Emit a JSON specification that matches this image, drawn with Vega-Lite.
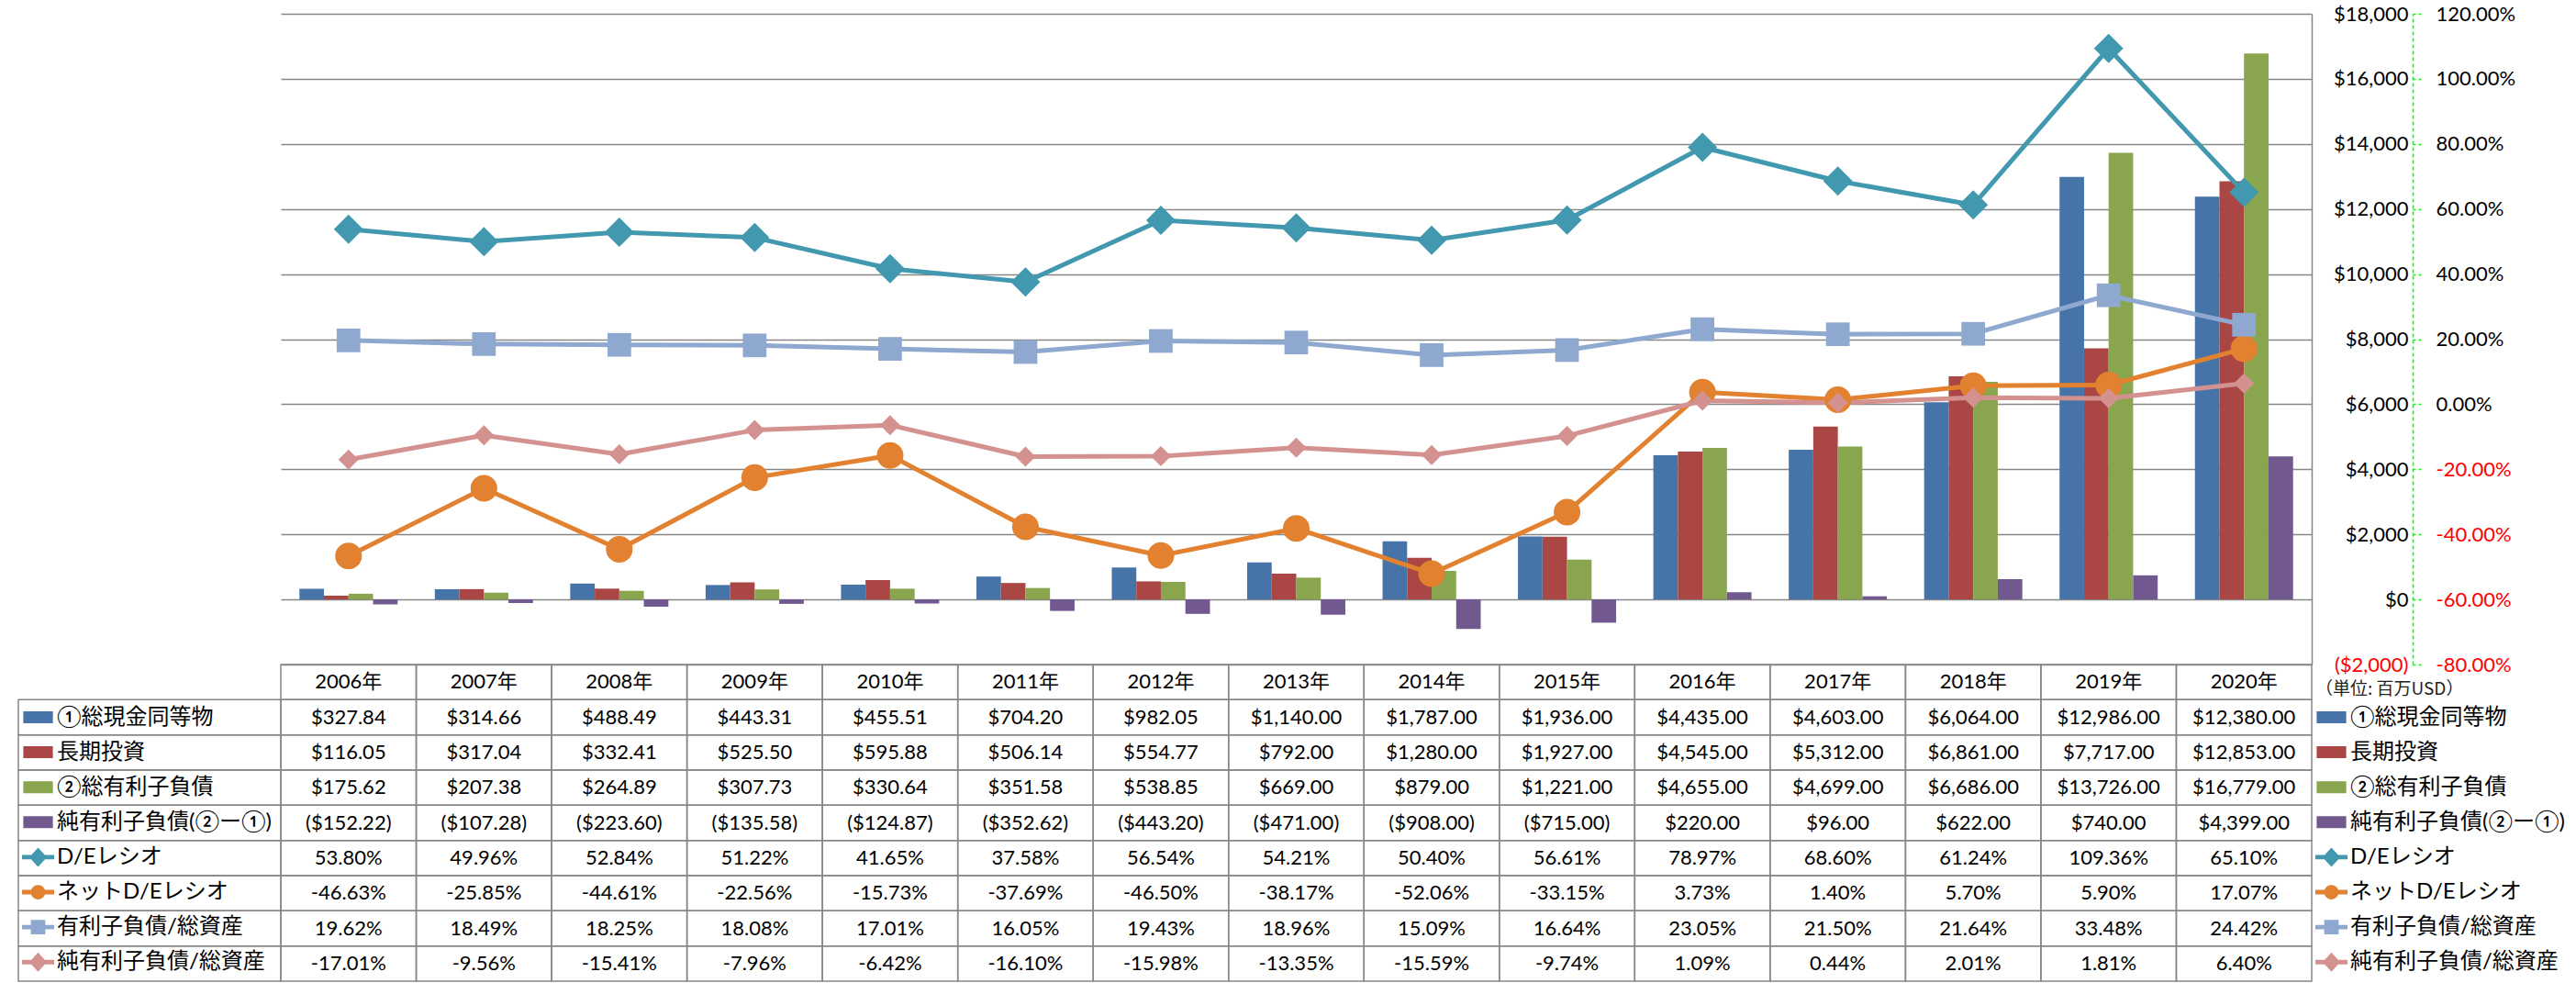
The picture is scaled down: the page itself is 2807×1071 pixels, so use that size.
{
  "$schema": "https://vega.github.io/schema/vega-lite/v6.json",
  "background": "white",
  "padding": {"left": 19, "top": 4, "right": 0, "bottom": 0},
  "config": {
    "font": "Lato, 'Noto Sans CJK JP', sans-serif",
    "view": {"stroke": null},
    "locale": {"number": {"decimal": ".", "thousands": ",", "grouping": [3], "currency": ["$", ""], "minus": "-"}},
    "text": {"font": "Lato, 'Noto Sans CJK JP', sans-serif", "fontSize": 22, "color": "#000000"}
  },
  "datasets": {
    "fin": [
      {"year": "2006", "series": "①総現金同等物", "kind": "money", "value": 327.84},
      {"year": "2007", "series": "①総現金同等物", "kind": "money", "value": 314.66},
      {"year": "2008", "series": "①総現金同等物", "kind": "money", "value": 488.49},
      {"year": "2009", "series": "①総現金同等物", "kind": "money", "value": 443.31},
      {"year": "2010", "series": "①総現金同等物", "kind": "money", "value": 455.51},
      {"year": "2011", "series": "①総現金同等物", "kind": "money", "value": 704.20},
      {"year": "2012", "series": "①総現金同等物", "kind": "money", "value": 982.05},
      {"year": "2013", "series": "①総現金同等物", "kind": "money", "value": 1140.00},
      {"year": "2014", "series": "①総現金同等物", "kind": "money", "value": 1787.00},
      {"year": "2015", "series": "①総現金同等物", "kind": "money", "value": 1936.00},
      {"year": "2016", "series": "①総現金同等物", "kind": "money", "value": 4435.00},
      {"year": "2017", "series": "①総現金同等物", "kind": "money", "value": 4603.00},
      {"year": "2018", "series": "①総現金同等物", "kind": "money", "value": 6064.00},
      {"year": "2019", "series": "①総現金同等物", "kind": "money", "value": 12986.00},
      {"year": "2020", "series": "①総現金同等物", "kind": "money", "value": 12380.00},
      {"year": "2006", "series": "長期投資", "kind": "money", "value": 116.05},
      {"year": "2007", "series": "長期投資", "kind": "money", "value": 317.04},
      {"year": "2008", "series": "長期投資", "kind": "money", "value": 332.41},
      {"year": "2009", "series": "長期投資", "kind": "money", "value": 525.50},
      {"year": "2010", "series": "長期投資", "kind": "money", "value": 595.88},
      {"year": "2011", "series": "長期投資", "kind": "money", "value": 506.14},
      {"year": "2012", "series": "長期投資", "kind": "money", "value": 554.77},
      {"year": "2013", "series": "長期投資", "kind": "money", "value": 792.00},
      {"year": "2014", "series": "長期投資", "kind": "money", "value": 1280.00},
      {"year": "2015", "series": "長期投資", "kind": "money", "value": 1927.00},
      {"year": "2016", "series": "長期投資", "kind": "money", "value": 4545.00},
      {"year": "2017", "series": "長期投資", "kind": "money", "value": 5312.00},
      {"year": "2018", "series": "長期投資", "kind": "money", "value": 6861.00},
      {"year": "2019", "series": "長期投資", "kind": "money", "value": 7717.00},
      {"year": "2020", "series": "長期投資", "kind": "money", "value": 12853.00},
      {"year": "2006", "series": "②総有利子負債", "kind": "money", "value": 175.62},
      {"year": "2007", "series": "②総有利子負債", "kind": "money", "value": 207.38},
      {"year": "2008", "series": "②総有利子負債", "kind": "money", "value": 264.89},
      {"year": "2009", "series": "②総有利子負債", "kind": "money", "value": 307.73},
      {"year": "2010", "series": "②総有利子負債", "kind": "money", "value": 330.64},
      {"year": "2011", "series": "②総有利子負債", "kind": "money", "value": 351.58},
      {"year": "2012", "series": "②総有利子負債", "kind": "money", "value": 538.85},
      {"year": "2013", "series": "②総有利子負債", "kind": "money", "value": 669.00},
      {"year": "2014", "series": "②総有利子負債", "kind": "money", "value": 879.00},
      {"year": "2015", "series": "②総有利子負債", "kind": "money", "value": 1221.00},
      {"year": "2016", "series": "②総有利子負債", "kind": "money", "value": 4655.00},
      {"year": "2017", "series": "②総有利子負債", "kind": "money", "value": 4699.00},
      {"year": "2018", "series": "②総有利子負債", "kind": "money", "value": 6686.00},
      {"year": "2019", "series": "②総有利子負債", "kind": "money", "value": 13726.00},
      {"year": "2020", "series": "②総有利子負債", "kind": "money", "value": 16779.00},
      {"year": "2006", "series": "純有利子負債(②ー①)", "kind": "money", "value": -152.22},
      {"year": "2007", "series": "純有利子負債(②ー①)", "kind": "money", "value": -107.28},
      {"year": "2008", "series": "純有利子負債(②ー①)", "kind": "money", "value": -223.60},
      {"year": "2009", "series": "純有利子負債(②ー①)", "kind": "money", "value": -135.58},
      {"year": "2010", "series": "純有利子負債(②ー①)", "kind": "money", "value": -124.87},
      {"year": "2011", "series": "純有利子負債(②ー①)", "kind": "money", "value": -352.62},
      {"year": "2012", "series": "純有利子負債(②ー①)", "kind": "money", "value": -443.20},
      {"year": "2013", "series": "純有利子負債(②ー①)", "kind": "money", "value": -471.00},
      {"year": "2014", "series": "純有利子負債(②ー①)", "kind": "money", "value": -908.00},
      {"year": "2015", "series": "純有利子負債(②ー①)", "kind": "money", "value": -715.00},
      {"year": "2016", "series": "純有利子負債(②ー①)", "kind": "money", "value": 220.00},
      {"year": "2017", "series": "純有利子負債(②ー①)", "kind": "money", "value": 96.00},
      {"year": "2018", "series": "純有利子負債(②ー①)", "kind": "money", "value": 622.00},
      {"year": "2019", "series": "純有利子負債(②ー①)", "kind": "money", "value": 740.00},
      {"year": "2020", "series": "純有利子負債(②ー①)", "kind": "money", "value": 4399.00},
      {"year": "2006", "series": "D/Eレシオ", "kind": "ratio", "value": 0.5380},
      {"year": "2007", "series": "D/Eレシオ", "kind": "ratio", "value": 0.4996},
      {"year": "2008", "series": "D/Eレシオ", "kind": "ratio", "value": 0.5284},
      {"year": "2009", "series": "D/Eレシオ", "kind": "ratio", "value": 0.5122},
      {"year": "2010", "series": "D/Eレシオ", "kind": "ratio", "value": 0.4165},
      {"year": "2011", "series": "D/Eレシオ", "kind": "ratio", "value": 0.3758},
      {"year": "2012", "series": "D/Eレシオ", "kind": "ratio", "value": 0.5654},
      {"year": "2013", "series": "D/Eレシオ", "kind": "ratio", "value": 0.5421},
      {"year": "2014", "series": "D/Eレシオ", "kind": "ratio", "value": 0.5040},
      {"year": "2015", "series": "D/Eレシオ", "kind": "ratio", "value": 0.5661},
      {"year": "2016", "series": "D/Eレシオ", "kind": "ratio", "value": 0.7897},
      {"year": "2017", "series": "D/Eレシオ", "kind": "ratio", "value": 0.6860},
      {"year": "2018", "series": "D/Eレシオ", "kind": "ratio", "value": 0.6124},
      {"year": "2019", "series": "D/Eレシオ", "kind": "ratio", "value": 1.0936},
      {"year": "2020", "series": "D/Eレシオ", "kind": "ratio", "value": 0.6510},
      {"year": "2006", "series": "ネットD/Eレシオ", "kind": "ratio", "value": -0.4663},
      {"year": "2007", "series": "ネットD/Eレシオ", "kind": "ratio", "value": -0.2585},
      {"year": "2008", "series": "ネットD/Eレシオ", "kind": "ratio", "value": -0.4461},
      {"year": "2009", "series": "ネットD/Eレシオ", "kind": "ratio", "value": -0.2256},
      {"year": "2010", "series": "ネットD/Eレシオ", "kind": "ratio", "value": -0.1573},
      {"year": "2011", "series": "ネットD/Eレシオ", "kind": "ratio", "value": -0.3769},
      {"year": "2012", "series": "ネットD/Eレシオ", "kind": "ratio", "value": -0.4650},
      {"year": "2013", "series": "ネットD/Eレシオ", "kind": "ratio", "value": -0.3817},
      {"year": "2014", "series": "ネットD/Eレシオ", "kind": "ratio", "value": -0.5206},
      {"year": "2015", "series": "ネットD/Eレシオ", "kind": "ratio", "value": -0.3315},
      {"year": "2016", "series": "ネットD/Eレシオ", "kind": "ratio", "value": 0.0373},
      {"year": "2017", "series": "ネットD/Eレシオ", "kind": "ratio", "value": 0.0140},
      {"year": "2018", "series": "ネットD/Eレシオ", "kind": "ratio", "value": 0.0570},
      {"year": "2019", "series": "ネットD/Eレシオ", "kind": "ratio", "value": 0.0590},
      {"year": "2020", "series": "ネットD/Eレシオ", "kind": "ratio", "value": 0.1707},
      {"year": "2006", "series": "有利子負債/総資産", "kind": "ratio", "value": 0.1962},
      {"year": "2007", "series": "有利子負債/総資産", "kind": "ratio", "value": 0.1849},
      {"year": "2008", "series": "有利子負債/総資産", "kind": "ratio", "value": 0.1825},
      {"year": "2009", "series": "有利子負債/総資産", "kind": "ratio", "value": 0.1808},
      {"year": "2010", "series": "有利子負債/総資産", "kind": "ratio", "value": 0.1701},
      {"year": "2011", "series": "有利子負債/総資産", "kind": "ratio", "value": 0.1605},
      {"year": "2012", "series": "有利子負債/総資産", "kind": "ratio", "value": 0.1943},
      {"year": "2013", "series": "有利子負債/総資産", "kind": "ratio", "value": 0.1896},
      {"year": "2014", "series": "有利子負債/総資産", "kind": "ratio", "value": 0.1509},
      {"year": "2015", "series": "有利子負債/総資産", "kind": "ratio", "value": 0.1664},
      {"year": "2016", "series": "有利子負債/総資産", "kind": "ratio", "value": 0.2305},
      {"year": "2017", "series": "有利子負債/総資産", "kind": "ratio", "value": 0.2150},
      {"year": "2018", "series": "有利子負債/総資産", "kind": "ratio", "value": 0.2164},
      {"year": "2019", "series": "有利子負債/総資産", "kind": "ratio", "value": 0.3348},
      {"year": "2020", "series": "有利子負債/総資産", "kind": "ratio", "value": 0.2442},
      {"year": "2006", "series": "純有利子負債/総資産", "kind": "ratio", "value": -0.1701},
      {"year": "2007", "series": "純有利子負債/総資産", "kind": "ratio", "value": -0.0956},
      {"year": "2008", "series": "純有利子負債/総資産", "kind": "ratio", "value": -0.1541},
      {"year": "2009", "series": "純有利子負債/総資産", "kind": "ratio", "value": -0.0796},
      {"year": "2010", "series": "純有利子負債/総資産", "kind": "ratio", "value": -0.0642},
      {"year": "2011", "series": "純有利子負債/総資産", "kind": "ratio", "value": -0.1610},
      {"year": "2012", "series": "純有利子負債/総資産", "kind": "ratio", "value": -0.1598},
      {"year": "2013", "series": "純有利子負債/総資産", "kind": "ratio", "value": -0.1335},
      {"year": "2014", "series": "純有利子負債/総資産", "kind": "ratio", "value": -0.1559},
      {"year": "2015", "series": "純有利子負債/総資産", "kind": "ratio", "value": -0.0974},
      {"year": "2016", "series": "純有利子負債/総資産", "kind": "ratio", "value": 0.0109},
      {"year": "2017", "series": "純有利子負債/総資産", "kind": "ratio", "value": 0.0044},
      {"year": "2018", "series": "純有利子負債/総資産", "kind": "ratio", "value": 0.0201},
      {"year": "2019", "series": "純有利子負債/総資産", "kind": "ratio", "value": 0.0181},
      {"year": "2020", "series": "純有利子負債/総資産", "kind": "ratio", "value": 0.0640}
    ],
    "years": [
      {"year": "2006", "series": "header", "label": "2006年"},
      {"year": "2007", "series": "header", "label": "2007年"},
      {"year": "2008", "series": "header", "label": "2008年"},
      {"year": "2009", "series": "header", "label": "2009年"},
      {"year": "2010", "series": "header", "label": "2010年"},
      {"year": "2011", "series": "header", "label": "2011年"},
      {"year": "2012", "series": "header", "label": "2012年"},
      {"year": "2013", "series": "header", "label": "2013年"},
      {"year": "2014", "series": "header", "label": "2014年"},
      {"year": "2015", "series": "header", "label": "2015年"},
      {"year": "2016", "series": "header", "label": "2016年"},
      {"year": "2017", "series": "header", "label": "2017年"},
      {"year": "2018", "series": "header", "label": "2018年"},
      {"year": "2019", "series": "header", "label": "2019年"},
      {"year": "2020", "series": "header", "label": "2020年"}
    ],
    "series": [
      {"series": "①総現金同等物"},
      {"series": "長期投資"},
      {"series": "②総有利子負債"},
      {"series": "純有利子負債(②ー①)"},
      {"series": "D/Eレシオ"},
      {"series": "ネットD/Eレシオ"},
      {"series": "有利子負債/総資産"},
      {"series": "純有利子負債/総資産"}
    ]
  },
  "columns": 3,
  "spacing": 0,
  "align": "each",
  "bounds": "flush",
  "resolve": {
    "scale": {"color": "independent", "shape": "independent", "size": "independent"},
    "legend": {"color": "independent", "shape": "independent", "size": "independent"}
  },
  "concat": [
    {
      "width": 286, "height": 709,
      "data": {"values": []},
      "mark": "point",
      "encoding": {}
    },
    {
      "width": 2213, "height": 709,
      "data": {"name": "fin"},
      "encoding": {
        "x": {"field": "year", "type": "nominal", "scale": {"paddingInner": 0.275, "paddingOuter": 0.1375}, "axis": null}
      },
      "layer": [
        {
          "transform": [{"filter": "datum.kind == 'money'"}],
          "mark": {"type": "bar"},
          "encoding": {
            "xOffset": {"field": "series", "type": "nominal", "scale": {"domain": ["①総現金同等物", "長期投資", "②総有利子負債", "純有利子負債(②ー①)"], "paddingInner": 0, "paddingOuter": 0}},
            "y": {
              "field": "value", "type": "quantitative",
              "scale": {"domain": [-2000, 18000], "nice": false},
              "axis": {
                "orient": "right", "title": null,
                "values": [-2000, 0, 2000, 4000, 6000, 8000, 10000, 12000, 14000, 16000, 18000],
                "format": "($,.0f",
                "grid": true, "gridColor": "#878787", "gridWidth": 1.5,
                "domain": true, "domainColor": "#878787", "domainWidth": 1.5,
                "ticks": false, "tickSize": 0,
                "labelAlign": "right", "labelPadding": 105,
                "labelFont": "Lato", "labelFontSize": 22,
                "labelColor": {"condition": {"test": "datum.value < 0", "value": "#FF0000"}, "value": "#000000"},
                "labelFlush": false, "labelOverlap": false
              }
            },
            "color": {
              "field": "series", "type": "nominal",
              "scale": {
                "domain": ["①総現金同等物", "長期投資", "②総有利子負債", "純有利子負債(②ー①)", "D/Eレシオ", "ネットD/Eレシオ", "有利子負債/総資産", "純有利子負債/総資産"],
                "range": ["#4674A8", "#AA4644", "#89A54E", "#71588F", "#4198AF", "#E2812F", "#8FA8CF", "#D39290"]
              },
              "legend": null
            }
          }
        },
        {
          "transform": [{"filter": "datum.kind == 'ratio'"}],
          "encoding": {
            "y": {
              "field": "value", "type": "quantitative",
              "scale": {"domain": [-0.8, 1.2], "nice": false},
              "axis": {
                "orient": "right", "offset": 110, "title": null,
                "values": [-0.8, -0.6, -0.4, -0.2, 0, 0.2, 0.4, 0.6, 0.8, 1, 1.2],
                "format": ".2%",
                "grid": false,
                "domain": true, "domainColor": "#00FF00", "domainDash": [4, 3], "domainWidth": 1.5,
                "ticks": true, "tickColor": "#00FF00", "tickDash": [3, 3], "tickSize": 9, "tickWidth": 1.5,
                "labelPadding": 16, "labelAlign": "left",
                "labelFont": "Lato", "labelFontSize": 22,
                "labelColor": {"condition": {"test": "datum.value < 0", "value": "#FF0000"}, "value": "#000000"},
                "labelFlush": false, "labelOverlap": false
              }
            },
            "color": {
              "field": "series", "type": "nominal",
              "scale": {
                "domain": ["①総現金同等物", "長期投資", "②総有利子負債", "純有利子負債(②ー①)", "D/Eレシオ", "ネットD/Eレシオ", "有利子負債/総資産", "純有利子負債/総資産"],
                "range": ["#4674A8", "#AA4644", "#89A54E", "#71588F", "#4198AF", "#E2812F", "#8FA8CF", "#D39290"]
              },
              "legend": null
            }
          },
          "layer": [
            {
              "mark": {"type": "line", "strokeWidth": 5, "strokeJoin": "round", "strokeCap": "round"}
            },
            {
              "mark": {"type": "point", "filled": true, "opacity": 1},
              "encoding": {
                "shape": {"field": "series", "type": "nominal", "scale": {"domain": ["D/Eレシオ", "ネットD/Eレシオ", "有利子負債/総資産", "純有利子負債/総資産"], "range": ["diamond", "circle", "square", "diamond"]}, "legend": null},
                "size": {"field": "series", "type": "nominal", "scale": {"domain": ["D/Eレシオ", "ネットD/Eレシオ", "有利子負債/総資産", "純有利子負債/総資産"], "range": [1024, 484, 529, 900]}, "legend": null}
              }
            }
          ]
        }
      ],
      "resolve": {"scale": {"y": "independent"}}
    },
    {
      "width": 287, "height": 709,
      "data": {"values": []},
      "mark": "point",
      "encoding": {}
    },
    {
      "width": 286, "height": 345,
      "data": {"name": "series"},
      "encoding": {
        "y": {"field": "series", "type": "nominal", "scale": {"domain": ["header", "①総現金同等物", "長期投資", "②総有利子負債", "純有利子負債(②ー①)", "D/Eレシオ", "ネットD/Eレシオ", "有利子負債/総資産", "純有利子負債/総資産"], "paddingInner": 0, "paddingOuter": 0}, "axis": null}
      },
      "layer": [
        {"mark": {"type": "rect", "fill": "#ffffff", "fillOpacity": 0, "stroke": "#878787", "strokeWidth": 1.5}},
        {
          "mark": {"type": "point", "filled": true, "opacity": 0},
          "encoding": {
            "color": {
              "field": "series", "type": "nominal",
              "scale": {
                "domain": ["①総現金同等物", "長期投資", "②総有利子負債", "純有利子負債(②ー①)", "D/Eレシオ", "ネットD/Eレシオ", "有利子負債/総資産", "純有利子負債/総資産"],
                "range": ["#4674A8", "#AA4644", "#89A54E", "#71588F", "#4198AF", "#E2812F", "#8FA8CF", "#D39290"]
              },
              "legend": {"orient": "none", "legendX": 4, "legendY": 40, "direction": "vertical", "title": null, "symbolSize": 1225, "symbolStrokeWidth": 0, "symbolOpacity": 1, "labelFontSize": 24, "labelFont": "Lato, 'Noto Sans CJK JP'", "labelColor": "#000000", "labelOffset": 3, "labelLimit": 400, "rowPadding": 8.1, "padding": 0, "offset": 0}
            },
            "shape": {
              "field": "series", "type": "nominal",
              "scale": {
                "domain": ["①総現金同等物", "長期投資", "②総有利子負債", "純有利子負債(②ー①)", "D/Eレシオ", "ネットD/Eレシオ", "有利子負債/総資産", "純有利子負債/総資産"],
                "range": [
                  "M-0.92,-0.37H0.92V0.37H-0.92Z",
                  "M-0.92,-0.37H0.92V0.37H-0.92Z",
                  "M-0.92,-0.37H0.92V0.37H-0.92Z",
                  "M-0.92,-0.37H0.92V0.37H-0.92Z",
                  "M-1,-0.14H1V0.14H-1Z M-0.55,0L0,-0.6L0.55,0L0,0.6Z",
                  "M-1,-0.14H1V0.14H-1Z M-0.45,0A0.45,0.45 0 1,1 0.45,0A0.45,0.45 0 1,1 -0.45,0Z",
                  "M-1,-0.14H1V0.14H-1Z M-0.45,-0.45H0.45V0.45H-0.45Z",
                  "M-1,-0.14H1V0.14H-1Z M-0.55,0L0,-0.6L0.55,0L0,0.6Z"
                ]
              },
              "legend": {"orient": "none", "legendX": 4, "legendY": 40, "direction": "vertical", "title": null, "symbolSize": 1225, "symbolStrokeWidth": 0, "symbolOpacity": 1, "labelFontSize": 24, "labelFont": "Lato, 'Noto Sans CJK JP'", "labelColor": "#000000", "labelOffset": 3, "labelLimit": 400, "rowPadding": 8.1, "padding": 0, "offset": 0}
            }
          }
        }
      ]
    },
    {
      "width": 2213, "height": 345,
      "encoding": {
        "x": {"field": "year", "type": "nominal", "scale": {"paddingInner": 0, "paddingOuter": 0}, "axis": null},
        "y": {"field": "series", "type": "nominal", "scale": {"domain": ["header", "①総現金同等物", "長期投資", "②総有利子負債", "純有利子負債(②ー①)", "D/Eレシオ", "ネットD/Eレシオ", "有利子負債/総資産", "純有利子負債/総資産"], "paddingInner": 0, "paddingOuter": 0}, "axis": null}
      },
      "layer": [
        {"data": {"name": "fin"}, "mark": {"type": "rect", "fill": "#ffffff", "fillOpacity": 0, "stroke": "#878787", "strokeWidth": 1.5}},
        {"data": {"name": "years"}, "mark": {"type": "rect", "fill": "#ffffff", "fillOpacity": 0, "stroke": "#878787", "strokeWidth": 1.5}},
        {
          "data": {"name": "fin"},
          "transform": [{"filter": "datum.kind == 'money'"}],
          "mark": {"type": "text", "fontSize": 22, "color": "#000000"},
          "encoding": {"text": {"field": "value", "type": "quantitative", "format": "($,.2f"}}
        },
        {
          "data": {"name": "fin"},
          "transform": [{"filter": "datum.kind == 'ratio'"}],
          "mark": {"type": "text", "fontSize": 22, "color": "#000000"},
          "encoding": {"text": {"field": "value", "type": "quantitative", "format": ".2%"}}
        },
        {
          "data": {"name": "years"},
          "mark": {"type": "text", "fontSize": 22, "color": "#000000"},
          "encoding": {"text": {"field": "label", "type": "nominal"}}
        }
      ]
    },
    {
      "width": 287, "height": 345,
      "data": {"name": "series"},
      "mark": {"type": "point", "filled": true, "opacity": 0},
      "encoding": {
        "color": {
          "field": "series", "type": "nominal",
          "scale": {
            "domain": ["①総現金同等物", "長期投資", "②総有利子負債", "純有利子負債(②ー①)", "D/Eレシオ", "ネットD/Eレシオ", "有利子負債/総資産", "純有利子負債/総資産"],
            "range": ["#4674A8", "#AA4644", "#89A54E", "#71588F", "#4198AF", "#E2812F", "#8FA8CF", "#D39290"]
          },
          "legend": {"orient": "none", "legendX": 4, "legendY": 18, "direction": "vertical", "title": "（単位: 百万USD）", "titleFont": "'Noto Sans CJK JP'", "titleFontSize": 19, "titleFontWeight": "normal", "titleColor": "#222222", "titlePadding": 3, "titleLimit": 400, "symbolSize": 1225, "symbolStrokeWidth": 0, "symbolOpacity": 1, "labelFontSize": 24, "labelFont": "Lato, 'Noto Sans CJK JP'", "labelColor": "#000000", "labelOffset": 3, "labelLimit": 400, "rowPadding": 8.1, "padding": 0, "offset": 0}
        },
        "shape": {
          "field": "series", "type": "nominal",
          "scale": {
            "domain": ["①総現金同等物", "長期投資", "②総有利子負債", "純有利子負債(②ー①)", "D/Eレシオ", "ネットD/Eレシオ", "有利子負債/総資産", "純有利子負債/総資産"],
            "range": [
              "M-0.92,-0.37H0.92V0.37H-0.92Z",
              "M-0.92,-0.37H0.92V0.37H-0.92Z",
              "M-0.92,-0.37H0.92V0.37H-0.92Z",
              "M-0.92,-0.37H0.92V0.37H-0.92Z",
              "M-1,-0.14H1V0.14H-1Z M-0.55,0L0,-0.6L0.55,0L0,0.6Z",
              "M-1,-0.14H1V0.14H-1Z M-0.45,0A0.45,0.45 0 1,1 0.45,0A0.45,0.45 0 1,1 -0.45,0Z",
              "M-1,-0.14H1V0.14H-1Z M-0.45,-0.45H0.45V0.45H-0.45Z",
              "M-1,-0.14H1V0.14H-1Z M-0.55,0L0,-0.6L0.55,0L0,0.6Z"
            ]
          },
          "legend": {"orient": "none", "legendX": 4, "legendY": 18, "direction": "vertical", "title": "（単位: 百万USD）", "titleFont": "'Noto Sans CJK JP'", "titleFontSize": 19, "titleFontWeight": "normal", "titleColor": "#222222", "titlePadding": 3, "titleLimit": 400, "symbolSize": 1225, "symbolStrokeWidth": 0, "symbolOpacity": 1, "labelFontSize": 24, "labelFont": "Lato, 'Noto Sans CJK JP'", "labelColor": "#000000", "labelOffset": 3, "labelLimit": 400, "rowPadding": 8.1, "padding": 0, "offset": 0}
        }
      }
    }
  ]
}
